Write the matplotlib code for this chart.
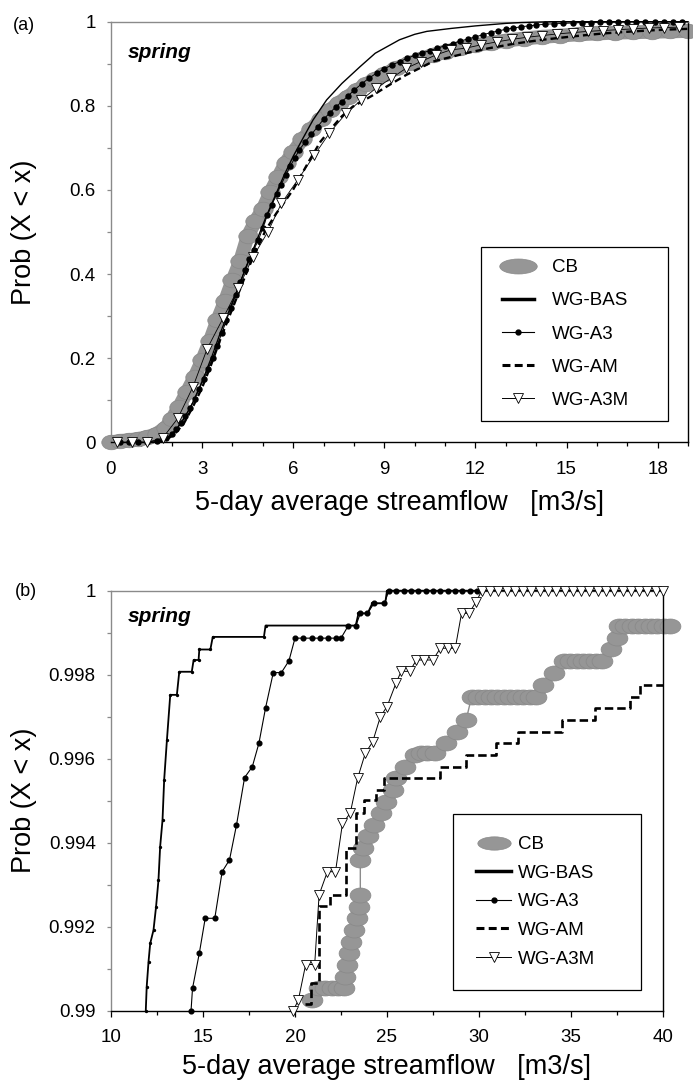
import matplotlib
matplotlib.use('Agg')
import matplotlib.pyplot as plt
from matplotlib.path import Path
from matplotlib.lines import Line2D
from matplotlib.legend_handler import HandlerLine2D
import matplotlib.transforms as mtransforms
from matplotlib.ticker import FixedLocator, FuncFormatter

plt.rcParams['font.family'] = ['Liberation Sans', 'DejaVu Sans']

# ---------------- data: panel (a) ----------------
CB_a_x = [0.0, 0.3, 0.6, 0.9, 1.2, 1.5, 1.8, 2.0, 2.25, 2.5, 2.75, 3.0, 3.25, 3.5, 3.75, 4.0,
          4.25, 4.5, 4.75, 5.0, 5.25, 5.5, 5.75, 6.0, 6.3, 6.6, 6.9, 7.2, 7.5, 7.8, 8.1, 8.4,
          8.7, 9.0, 9.4, 9.8, 10.2, 10.6, 11.0, 11.5, 12.0, 12.5, 13.0, 13.6, 14.2, 14.8,
          15.4, 16.0, 16.6, 17.2, 17.8, 18.4, 19.0]
CB_a_p = [0.0, 0.003, 0.005, 0.008, 0.012, 0.02, 0.035, 0.055, 0.085, 0.12, 0.155, 0.195,
          0.24, 0.29, 0.335, 0.385, 0.43, 0.49, 0.525, 0.555, 0.595, 0.63, 0.665, 0.69, 0.72,
          0.745, 0.768, 0.79, 0.807, 0.822, 0.837, 0.851, 0.864, 0.875, 0.889, 0.901, 0.911,
          0.921, 0.929, 0.937, 0.944, 0.95, 0.955, 0.96, 0.964, 0.967, 0.97, 0.972, 0.974,
          0.975, 0.976, 0.977, 0.978]

BAS_a_x = [1.5, 1.8, 2.1, 2.4, 2.7, 3.0, 3.3, 3.6, 3.9, 4.2, 4.5, 4.8, 5.1, 5.4, 5.7, 6.0,
           6.3, 6.65, 7.1, 7.6, 8.2, 8.7, 9.2, 9.5, 10.0, 10.4, 11.2, 12.0, 12.5, 13.0, 13.5,
           14.0, 14.5, 19.0]
BAS_a_p = [0.0, 0.006, 0.025, 0.055, 0.095, 0.145, 0.2, 0.26, 0.315, 0.37, 0.425, 0.48,
           0.535, 0.585, 0.635, 0.68, 0.72, 0.766, 0.814, 0.853, 0.893, 0.925, 0.945, 0.957,
           0.97, 0.977, 0.984, 0.99, 0.993, 0.996, 0.998, 0.999, 1.0, 1.0]

A3_a_x = [0.3, 0.6, 0.9, 1.2, 1.5, 1.8, 2.0, 2.15, 2.3, 2.45, 2.6, 2.75, 2.9, 3.05, 3.2,
          3.35, 3.5, 3.65, 3.8, 3.95, 4.1, 4.25, 4.4, 4.55, 4.7, 4.85, 5.0, 5.15, 5.3, 5.45,
          5.6, 5.75, 5.9, 6.05, 6.2, 6.4, 6.6, 6.8, 7.0, 7.2, 7.4, 7.6, 7.8, 8.0, 8.25, 8.5,
          8.75, 9.0, 9.25, 9.5, 9.75, 10.0, 10.25, 10.5, 10.75, 11.0, 11.25, 11.5, 11.75,
          12.0, 12.25, 12.5, 12.75, 13.0, 13.25, 13.5, 13.75, 14.0, 14.3, 14.6, 14.9, 15.2,
          15.5, 15.8, 16.1, 16.4, 16.7, 17.0, 17.3, 17.6, 17.9, 18.2, 18.5, 18.8]
A3_a_p = [0.0, 0.0, 0.0, 0.001, 0.003, 0.01, 0.02, 0.032, 0.047, 0.063, 0.082, 0.103, 0.126,
          0.15, 0.175, 0.201, 0.23, 0.26, 0.29, 0.32, 0.35, 0.38, 0.41, 0.435, 0.458, 0.48,
          0.51, 0.54, 0.565, 0.59, 0.612, 0.635, 0.656, 0.676, 0.695, 0.715, 0.732, 0.75,
          0.768, 0.783, 0.797, 0.81, 0.823, 0.837, 0.852, 0.866, 0.878, 0.888, 0.897, 0.905,
          0.913, 0.92, 0.926, 0.931, 0.937, 0.943, 0.948, 0.954, 0.959, 0.964, 0.969, 0.974,
          0.978, 0.982, 0.985, 0.988, 0.99, 0.992, 0.994, 0.995, 0.996, 0.997, 0.998, 0.998,
          0.999, 0.999, 0.999, 1.0, 1.0, 1.0, 1.0, 1.0, 1.0, 1.0]

AM_a_x = [1.5, 1.8, 2.1, 2.4, 2.7, 3.0, 3.3, 3.6, 3.9, 4.2, 4.5, 4.8, 5.1, 5.44, 5.7, 5.99,
          6.3, 6.54, 6.9, 7.3, 7.6, 7.96, 8.62, 9.06, 9.71, 10.59, 11.68, 12.45, 13.3, 14.2,
          15.2, 16.2, 17.2, 18.2, 19.0]
AM_a_p = [0.0, 0.005, 0.02, 0.045, 0.085, 0.13, 0.185, 0.245, 0.3, 0.355, 0.41, 0.46, 0.505,
          0.544, 0.57, 0.6, 0.64, 0.671, 0.715, 0.75, 0.775, 0.798, 0.825, 0.845, 0.873,
          0.905, 0.925, 0.937, 0.948, 0.957, 0.965, 0.972, 0.977, 0.981, 0.983]

A3M_a_x = [0.2, 0.7, 1.2, 1.7, 2.2, 2.7, 3.17, 3.69, 4.19, 4.68, 5.17, 5.61, 6.15, 6.7, 7.19,
           7.74, 8.24, 8.73, 9.22, 9.71, 10.2, 10.7, 11.19, 11.68, 12.18, 12.7, 13.2, 13.7,
           14.2, 14.7, 15.2, 15.7, 16.2, 16.7, 17.2, 17.7, 18.2, 18.7]
A3M_a_p = [0.0, 0.0, 0.0, 0.01, 0.057, 0.132, 0.223, 0.295, 0.366, 0.441, 0.501, 0.568,
           0.624, 0.683, 0.735, 0.782, 0.814, 0.842, 0.865, 0.889, 0.905, 0.921, 0.933,
           0.937, 0.945, 0.952, 0.958, 0.963, 0.967, 0.971, 0.974, 0.977, 0.979, 0.981,
           0.983, 0.985, 0.986, 0.987]

# ---------------- data: panel (b) ----------------
CB_b_x = [20.9, 21.3, 21.65, 22.0, 22.35, 22.65, 22.7, 22.8, 22.95, 23.05, 23.2, 23.35, 23.5,
          23.55, 23.55, 23.7, 23.95, 24.3, 24.65, 24.95, 25.3, 25.5, 26.0, 26.5, 26.85, 27.2,
          27.6, 28.2, 28.8, 29.3, 29.6, 29.95, 30.3, 30.65, 31.0, 31.35, 31.7, 32.05, 32.4,
          32.75, 33.1, 33.5, 34.1, 34.6, 34.95, 35.3, 35.65, 36.0, 36.35, 36.7, 37.2, 37.5,
          37.6, 37.95, 38.3, 38.65, 39.0, 39.35, 39.7, 40.05, 40.4]
CB_b_p = [0.99025, 0.99053, 0.99053, 0.99053, 0.99053, 0.99053, 0.99081, 0.99109, 0.99137,
          0.99164, 0.99192, 0.9922, 0.99248, 0.99276, 0.99359, 0.99387, 0.99415, 0.99442,
          0.9947, 0.99498, 0.99525, 0.99553, 0.99581, 0.99609, 0.99613, 0.99613, 0.99613,
          0.99637, 0.99664, 0.99692, 0.99748, 0.99748, 0.99748, 0.99748, 0.99748, 0.99748,
          0.99748, 0.99748, 0.99748, 0.99748, 0.99748, 0.99776, 0.99804, 0.99832, 0.99832,
          0.99832, 0.99832, 0.99832, 0.99832, 0.99832, 0.9986, 0.99888, 0.99916, 0.99916,
          0.99916, 0.99916, 0.99916, 0.99916, 0.99916, 0.99916, 0.99916]

BAS_b_x = [11.89, 11.94, 12.04, 12.13, 12.31, 12.45, 12.58, 12.67, 12.80, 12.89, 13.04,
           13.22, 13.58, 13.71, 14.39, 14.49, 14.76, 14.80, 15.40, 15.53, 18.31, 18.40,
           22.86, 23.3, 23.45, 23.95, 24.2, 24.9, 25.0, 40.0]
BAS_b_p = [0.99, 0.99057, 0.99117, 0.9916, 0.99192, 0.99248, 0.99311, 0.9939, 0.99454,
           0.9955, 0.99645, 0.99752, 0.99752, 0.99807, 0.99807, 0.99835, 0.99835, 0.9986,
           0.9986, 0.9989, 0.9989, 0.99917, 0.99917, 0.99917, 0.99946, 0.99946, 0.9997,
           0.9997, 1.0, 1.0]

A3_b_x = [14.35, 14.43, 14.80, 15.12, 15.64, 16.04, 16.44, 16.82, 17.26, 17.68, 18.04,
          18.40, 18.82, 19.26, 19.67, 20.0, 20.45, 20.9, 21.35, 21.8, 22.25, 22.5, 22.9,
          23.31, 23.55, 23.93, 24.3, 24.86, 25.1, 25.5, 25.9, 26.3, 26.7, 27.1, 27.5, 27.9,
          28.3, 28.7, 29.1, 29.5, 29.9]
A3_b_p = [0.99, 0.99053, 0.99137, 0.9922, 0.9922, 0.99331, 0.99359, 0.99442, 0.99555,
          0.99581, 0.99637, 0.99721, 0.99805, 0.99805, 0.99833, 0.99887, 0.99887, 0.99887,
          0.99887, 0.99887, 0.99887, 0.99887, 0.99917, 0.99917, 0.99946, 0.99946, 0.9997,
          0.9997, 1.0, 1.0, 1.0, 1.0, 1.0, 1.0, 1.0, 1.0, 1.0, 1.0, 1.0, 1.0, 1.0]

AM_b_x = [20.55, 20.85, 21.3, 21.9, 22.75, 23.3, 23.75, 24.4, 24.85, 27.9, 29.27, 30.95,
          32.13, 34.49, 36.31, 38.22, 38.76, 40.0]
AM_b_p = [0.99015, 0.99065, 0.9925, 0.99276, 0.99387, 0.9947, 0.99502, 0.99525, 0.99553,
          0.99581, 0.99609, 0.99637, 0.99664, 0.99692, 0.99721, 0.99748, 0.99775, 0.99775]

A3M_b_x = [19.9, 20.18, 20.58, 21.07, 21.31, 21.76, 22.2, 22.58, 23.0, 23.4, 23.82, 24.22,
           24.64, 25.0, 25.49, 25.77, 26.23, 26.6, 27.03, 27.49, 27.9, 28.31, 28.71, 29.05,
           29.45, 29.85, 30.15, 30.6, 31.05, 31.5, 31.95, 32.4, 32.85, 33.3, 33.75, 34.2,
           34.65, 35.1, 35.55, 36.0, 36.45, 36.9, 37.35, 37.8, 38.25, 38.7, 39.15, 39.6, 40.0]
A3M_b_p = [0.99, 0.99025, 0.9911, 0.9911, 0.99276, 0.99331, 0.99331, 0.99446, 0.9947,
           0.99553, 0.99613, 0.9964, 0.997, 0.99724, 0.9978, 0.99808, 0.99808, 0.99835,
           0.99835, 0.99835, 0.99863, 0.99863, 0.99863, 0.99946, 0.99946, 0.99974, 1.0,
           1.0, 1.0, 1.0, 1.0, 1.0, 1.0, 1.0, 1.0, 1.0, 1.0, 1.0, 1.0, 1.0, 1.0, 1.0, 1.0,
           1.0, 1.0, 1.0, 1.0, 1.0, 1.0]

SERIES = ['CB', 'WG-BAS', 'WG-A3', 'WG-AM', 'WG-A3M']
XTICKS_A = [0, 3, 6, 9, 12, 15, 18]
YTICKS_A = [0, 0.2, 0.4, 0.6, 0.8, 1]
XTICKS_B = [10, 15, 20, 25, 30, 35, 40]
YTICKS_B = [0.99, 0.992, 0.994, 0.996, 0.998, 1]
XLABEL = '5-day average streamflow   [m3/s]'
YLABEL = 'Prob (X < x)'

# ---------------- styling ----------------
CB_FACE = '#969696'
CB_EDGE = '#888888'
W, H = 693, 1084


def ellipse(aspect):
    return mtransforms.Affine2D().scale(1.0, aspect).transform_path(Path.unit_circle())


def ax_rect(l, t, r, b):
    return [l / W, 1 - b / H, (r - l) / W, (b - t) / H]


fig = plt.figure(figsize=(6.93, 10.84), dpi=100)
axa = fig.add_axes(ax_rect(111, 21.7, 688, 442.3))
axb = fig.add_axes(ax_rect(111, 590.7, 663, 1010.7))

fmt = FuncFormatter(lambda v, pos: f'{v:g}')


def style(ax, xlim, ylim, xt, xminor, yt, yminor, xlab_y, ylab_x):
    ax.set_xlim(*xlim)
    ax.set_ylim(*ylim)
    ax.xaxis.set_major_locator(FixedLocator(xt))
    ax.xaxis.set_minor_locator(FixedLocator(xminor))
    ax.yaxis.set_major_locator(FixedLocator(yt))
    ax.yaxis.set_minor_locator(FixedLocator(yminor))
    ax.xaxis.set_major_formatter(fmt)
    ax.yaxis.set_major_formatter(fmt)
    ax.tick_params(axis='x', which='major', direction='out', length=4.5, width=0.9,
                   color='black', labelsize=13.5, pad=9)
    ax.tick_params(axis='x', which='minor', direction='out', length=3.2, width=0.9,
                   color='black')
    ax.tick_params(axis='y', which='both', direction='out', length=3.0, width=0.9,
                   color='#8a8a8a', labelsize=13.5, pad=8)
    for s in ['left', 'top']:
        ax.spines[s].set_color('#8a8a8a')
        ax.spines[s].set_linewidth(1.0)
    for s in ['right', 'bottom']:
        ax.spines[s].set_color('black')
        ax.spines[s].set_linewidth(1.0)
    ax.set_xlabel(XLABEL, fontsize=19.5)
    ax.set_ylabel(YLABEL, fontsize=19.5)
    ax.xaxis.set_label_coords(0.5, xlab_y)
    ax.yaxis.set_label_coords(ylab_x, 0.5)
    ax.xaxis.label.set_va('center')
    ax.yaxis.label.set_va('center')


# ---------------- panel (a) ----------------
axa.plot(CB_a_x, CB_a_p, color=CB_FACE, lw=10, solid_capstyle='round', zorder=2, clip_on=False)
axa.plot(CB_a_x, CB_a_p, ls='none', marker=ellipse(0.75), ms=14, mfc=CB_FACE, mec=CB_EDGE,
         mew=0.5, zorder=2, clip_on=False)
axa.plot(BAS_a_x, BAS_a_p, color='black', lw=1.0, zorder=4, clip_on=False)
axa.plot(AM_a_x, AM_a_p, color='black', lw=1.7, dashes=(2.9, 1.7), zorder=4, clip_on=False)
axa.plot(A3_a_x, A3_a_p, color='black', lw=0.7, marker='o', ms=3.6, mfc='black', mec='black',
         zorder=5, clip_on=False)
axa.plot(A3M_a_x, A3M_a_p, color='black', lw=0.6, marker='v', ms=7.5, mfc='white', mec='black',
         mew=0.6, zorder=6, clip_on=False)

style(axa, (0, 19), (0, 1), XTICKS_A, list(range(0, 20)), YTICKS_A,
      [0.1, 0.3, 0.5, 0.7, 0.9], -0.1443, -0.1508)
axa.text(0.0295, 0.913, 'spring', transform=axa.transAxes, fontsize=15, fontweight='bold',
         fontstyle='italic', ha='left', va='baseline')

# ---------------- panel (b) ----------------
axb.plot(CB_b_x, CB_b_p, color='#8c8c8c', lw=1.0, zorder=2, clip_on=False)
axb.plot(CB_b_x, CB_b_p, ls='none', marker=ellipse(0.72), ms=15, mfc=CB_FACE, mec=CB_EDGE,
         mew=0.5, zorder=2, clip_on=False)
axb.plot(AM_b_x, AM_b_p, color='black', lw=1.9, dashes=(3.2, 1.5), drawstyle='steps-post',
         zorder=3, clip_on=False)
axb.plot(BAS_b_x, BAS_b_p, color='black', lw=1.3, marker='o', ms=1.4, zorder=4, clip_on=False)
axb.plot(A3_b_x, A3_b_p, color='black', lw=0.8, marker='o', ms=3.4, mfc='black', mec='black',
         zorder=5, clip_on=False)
axb.plot(A3M_b_x, A3M_b_p, color='black', lw=0.7, marker='v', ms=6.5, mfc='white', mec='black',
         mew=0.6, zorder=6, clip_on=False)

style(axb, (10, 40), (0.99, 1.0), XTICKS_B, [10 + 2.5 * i for i in range(13)], YTICKS_B,
      [0.991, 0.993, 0.995, 0.997, 0.999], -0.134, -0.1576)
axb.text(0.031, 0.926, 'spring', transform=axb.transAxes, fontsize=15, fontweight='bold',
         fontstyle='italic', ha='left', va='baseline')


# ---------------- legends ----------------
def make_handles(cb_ms):
    return [
        Line2D([], [], ls='none', marker=ellipse(0.4), ms=cb_ms, mfc=CB_FACE, mec=CB_EDGE, mew=0.5),
        Line2D([], [], color='black', lw=2.5),
        Line2D([], [], color='black', lw=0.8, marker='o', ms=3.5, mfc='black'),
        Line2D([], [], color='black', lw=2.2, dashes=(2.6, 1.4)),
        Line2D([], [], color='black', lw=0.7, marker='v', ms=6.5, mfc='white', mew=0.6),
    ]


def add_legend(ax, handles, x0, y0, w, h, handlelength, xpad, textpad, labelspacing, borderpad):
    hm = {hd: HandlerLine2D(xpad=xpad) for hd in handles}
    leg = ax.legend(handles, SERIES, loc='lower left', bbox_to_anchor=(x0, y0, w, h),
                    mode='expand', borderaxespad=0, fontsize=13.5, frameon=True,
                    fancybox=False, shadow=False, framealpha=1, edgecolor='black',
                    handlelength=handlelength, handletextpad=textpad,
                    labelspacing=labelspacing, borderpad=borderpad, handler_map=hm)
    leg.get_frame().set_linewidth(0.9)
    leg.set_zorder(10)
    return leg


add_legend(axa, make_handles(27), 370 / 577, 21.3 / 420.6, 187 / 577, 175 / 420.6,
           2.15, 0.46, 0.98, 0.85, 0.66)
add_legend(axb, make_handles(24), 342.3 / 552, 20.7 / 420, 187.4 / 552, 176 / 420,
           1.9, 0.0, 0.36, 0.61, 1.2)

fig.text(24 / W, 1 - 26 / H, '(a)', fontsize=13, ha='center', va='center')
fig.text(26 / W, 1 - 591.5 / H, '(b)', fontsize=13, ha='center', va='center')

fig.savefig('out.png', dpi=100)
